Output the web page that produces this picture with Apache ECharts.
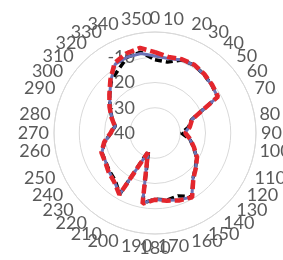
<!DOCTYPE html>
<html><head><meta charset="utf-8">
<script src="https://cdn.jsdelivr.net/npm/echarts@6/dist/echarts.min.js"></script>
<style>html,body{margin:0;padding:0;background:#fff}#c{width:283px;height:260px}</style>
</head><body><div id="c"></div>
<script>
var angles = [0,10,20,30,40,50,60,70,80,90,100,110,120,130,140,150,160,170,180,190,200,210,220,230,240,250,260,270,280,290,300,310,320,330,340,350];
var seriesBlack = [-11,-11.5,-9.2,-9,-9.8,-10.6,-11.4,-24.6,-26.5,-29.5,-26,-23.8,-21,-19,-16.6,-10.8,-13.5,-13,-13.8,-11.8,-32.5,-12,-15.5,-16.5,-17.4,-17.6,-19.8,-22.6,-24,-21.8,-19.4,-16.6,-13,-11,-8,-7.5];
var seriesBlue = [-9.5,-10,-9.2,-9,-9.8,-10.6,-11.4,-24.5,-26.2,-28.2,-26,-23.8,-21,-19,-16.6,-10.8,-11.8,-13,-13.8,-11.8,-31.8,-12,-15,-16.2,-17.4,-17.6,-19.8,-22.6,-24,-21.8,-19.4,-16.6,-12.8,-8.5,-8,-8];
var seriesRed = [-8,-9.4,-8.9,-8.8,-9.6,-10.4,-11.2,-24.4,-26,-28,-25.8,-23.6,-20.8,-18.8,-16.4,-10.6,-11.6,-12.8,-13.6,-11.6,-31.8,-11.8,-14.8,-16,-17.2,-17.4,-19.6,-22.4,-23.8,-21.6,-19.2,-16.4,-12.5,-8,-6.5,-5.8];
var radiusTicks = [-40,-30,-20,-10,0];

function toPolar(vals){
  var d = vals.map(function(v,i){ return [v, angles[i]]; });
  d.push([vals[0], 360]);
  return d;
}
var chart = echarts.init(document.getElementById('c'), null, {renderer:'canvas'});
var font = 'Lato, "Open Sans", sans-serif';
chart.setOption({
  animation:false,
  polar:{center:[155,133], radius:101},
  angleAxis:{type:'value', min:0, max:360, interval:10, startAngle:90, clockwise:true,
    axisLine:{show:true, lineStyle:{color:'#d9d9d9', width:1}},
    axisTick:{show:false}, splitLine:{show:false},
    axisLabel:{margin:5, color:'#595959', fontSize:18, fontFamily:font,
      formatter:function(v){ return v===360?'':String(v); }}},
  radiusAxis:{type:'value', min:radiusTicks[0], max:radiusTicks[radiusTicks.length-1], interval:10,
    axisLine:{show:false}, axisTick:{show:false},
    splitLine:{show:true, lineStyle:{color:'#d9d9d9', width:1}},
    axisLabel:{show:true, margin:20, color:'#595959', fontSize:18, fontFamily:font,
      formatter:function(v){ return v===0?'':String(v); }}},
  series:[
    {type:'line', coordinateSystem:'polar', data:toPolar(seriesBlack), symbol:'none', z:2,
      lineStyle:{color:'#000000', width:3.5, type:[7,4]}},
    {type:'line', coordinateSystem:'polar', data:toPolar(seriesBlue), symbol:'none', z:3,
      lineStyle:{color:'#6b72b6', width:3}},
    {type:'line', coordinateSystem:'polar', data:toPolar(seriesRed), symbol:'none', z:4,
      lineStyle:{color:'#e3262d', width:4.5, type:[9,4]}}
  ]
});
</script></body></html>
